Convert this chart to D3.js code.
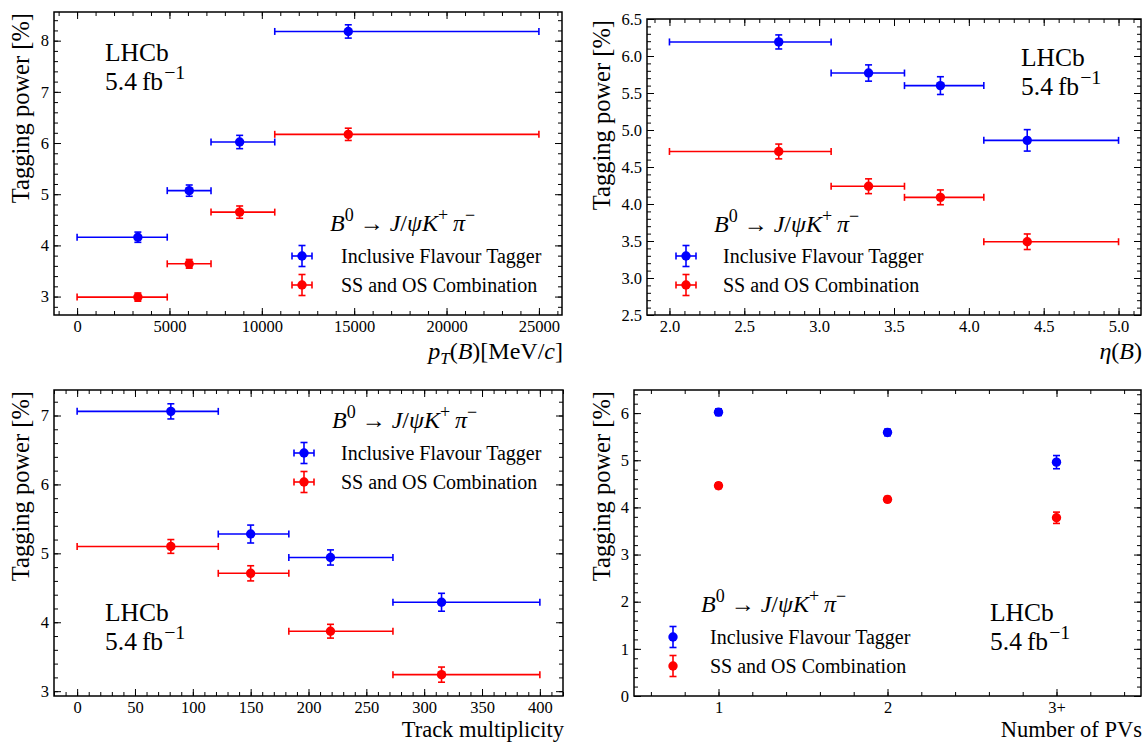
<!DOCTYPE html>
<html><head><meta charset="utf-8">
<script src="https://cdn.jsdelivr.net/npm/d3@7"></script>
<style>
body{margin:0;background:#fff}
svg{display:block}
text{font-family:"Liberation Serif","Times New Roman",serif;fill:#000}
</style>
</head><body>
<svg id="c" width="1144" height="742"></svg>
<script>
// ---------------- data ----------------
const seriesNames = ["Inclusive Flavour Tagger", "SS and OS Combination"];
const seriesColors = ["#0000ff", "#ff0000"];

const ptEdges = [0, 4880, 7250, 10700, 25000];
const ptX = [3290, 6070, 8800, 14680];
const ptIFT = [4.16, 5.07, 6.02, 8.18];
const ptIFTErr = [0.10, 0.11, 0.13, 0.13];
const ptSSOS = [2.99, 3.64, 4.65, 6.17];
const ptSSOSErr = [0.08, 0.085, 0.12, 0.12];
const ptXTicks = [0, 5000, 10000, 15000, 20000, 25000];
const ptYTicks = [3, 4, 5, 6, 7, 8];

const etaEdges = [2.0, 3.08, 3.57, 4.10, 5.0];
const etaX = [2.73, 3.33, 3.81, 4.39];
const etaIFT = [6.19, 5.77, 5.60, 4.86];
const etaIFTErr = [0.095, 0.11, 0.12, 0.145];
const etaSSOS = [4.71, 4.24, 4.09, 3.49];
const etaSSOSErr = [0.10, 0.10, 0.10, 0.105];
const etaXTicks = [2.0, 2.5, 3.0, 3.5, 4.0, 4.5, 5.0];
const etaYTicks = [2.5, 3.0, 3.5, 4.0, 4.5, 5.0, 5.5, 6.0, 6.5];

const trkEdges = [0, 122, 183, 273, 400];
const trkX = [81, 150, 219, 315];
const trkIFT = [7.06, 5.28, 4.94, 4.29];
const trkIFTErr = [0.11, 0.13, 0.11, 0.13];
const trkSSOS = [5.10, 4.71, 3.87, 3.24];
const trkSSOSErr = [0.10, 0.11, 0.10, 0.11];
const trkXTicks = [0, 50, 100, 150, 200, 250, 300, 350, 400];
const trkYTicks = [3, 4, 5, 6, 7];

const pvCategories = ["1", "2", "3+"];
const pvIFT = [6.02, 5.59, 4.96];
const pvIFTErr = [0.07, 0.07, 0.14];
const pvSSOS = [4.46, 4.17, 3.78];
const pvSSOSErr = [0.06, 0.06, 0.12];
const pvYTicks = [0, 1, 2, 3, 4, 5, 6];

// ---------------- drawing ----------------
const svg = d3.select("#c");

function rich(sel, parts, fs) {
  let shift = 0;
  parts.forEach(p => {
    const ts = sel.append("tspan").text(p.t);
    let target = 0, size = fs;
    if (p.sup) { target = -0.42 * fs; size = (p.scale || 0.7) * fs; }
    if (p.sub) { target = 0.22 * fs; size = 0.7 * fs; }
    ts.attr("dy", target - shift).attr("font-size", size);
    if (p.it) ts.attr("font-style", "italic");
    if (p.dx) ts.attr("dx", p.dx);
    shift = target;
  });
}

const decayParts = [
  {t: "B", it: true}, {t: "0", sup: true, scale: 0.75}, {t: " \u2192 "}, {t: "J", it: true}, {t: "/"},
  {t: "\u03c8K", it: true}, {t: "+", sup: true, scale: 0.75}, {t: "\u2009"}, {t: "\u03c0", it: true}, {t: "\u2212", sup: true, scale: 0.75}
];
const lumiParts = [{t: "5.4"}, {t: "fb", dx: 5}, {t: "\u22121", sup: true, scale: 0.78, dx: 1}];

function panel(cfg) {
  const b = cfg.box;
  const g = svg.append("g");
  const x = d3.scaleLinear().domain(cfg.xDomain).range([b.l, b.r]);
  const y = d3.scaleLinear().domain(cfg.yDomain).range([b.b, b.t]);

  const minor = (dom, step) => {
    const out = [];
    const s = Math.ceil(dom[0] / step - 1e-9), e = Math.floor(dom[1] / step + 1e-9);
    for (let i = s; i <= e; i++) out.push(+(i * step).toFixed(6));
    return out;
  };
  const xMinor = minor(cfg.xDomain, cfg.xMinorStep);
  const yMinor = minor(cfg.yDomain, cfg.yMinorStep);

  const style = (sel) => {
    sel.select(".domain").remove();
    sel.selectAll("line").attr("stroke", "#000").attr("stroke-width", 1);
    sel.selectAll("text").attr("font-size", 16.5).attr("fill", "#000");
    sel.attr("font-family", null).attr("font-size", null);
  };
  // minor
  g.append("g").attr("transform", `translate(0,${b.b})`).call(d3.axisBottom(x).tickValues(xMinor).tickFormat("").tickSize(-4)).call(style);
  g.append("g").attr("transform", `translate(0,${b.t})`).call(d3.axisTop(x).tickValues(xMinor).tickFormat("").tickSize(-4)).call(style);
  g.append("g").attr("transform", `translate(${b.l},0)`).call(d3.axisLeft(y).tickValues(yMinor).tickFormat("").tickSize(-4)).call(style);
  g.append("g").attr("transform", `translate(${b.r},0)`).call(d3.axisRight(y).tickValues(yMinor).tickFormat("").tickSize(-4)).call(style);
  // major
  g.append("g").attr("transform", `translate(0,${b.b})`).call(d3.axisBottom(x).tickValues(cfg.xTicks).tickFormat(cfg.xFmt).tickSize(-7).tickPadding(5)).call(style);
  g.append("g").attr("transform", `translate(0,${b.t})`).call(d3.axisTop(x).tickValues(cfg.xTicks).tickFormat("").tickSize(-7)).call(style);
  g.append("g").attr("transform", `translate(${b.l},0)`).call(d3.axisLeft(y).tickValues(cfg.yTicks).tickFormat(cfg.yFmt).tickSize(-7).tickPadding(5)).call(style);
  g.append("g").attr("transform", `translate(${b.r},0)`).call(d3.axisRight(y).tickValues(cfg.yTicks).tickFormat("").tickSize(-7)).call(style);

  // frame
  g.append("rect").attr("x", b.l).attr("y", b.t).attr("width", b.r - b.l).attr("height", b.b - b.t)
    .attr("fill", "none").attr("stroke", "#000").attr("stroke-width", 1.5);

  const cap = 3.5, sw = 1.6;
  cfg.series.forEach((s, si) => {
    const col = seriesColors[si];
    const sg = g.append("g").attr("stroke", col).attr("stroke-width", sw).attr("fill", col);
    s.vals.forEach((v, i) => {
      const cx = x(cfg.xs[i]), cy = y(v);
      if (cfg.edges) {
        const x0 = x(cfg.edges[i]), x1 = x(cfg.edges[i + 1]);
        sg.append("line").attr("x1", x0).attr("x2", x1).attr("y1", cy).attr("y2", cy);
        sg.append("line").attr("x1", x0).attr("x2", x0).attr("y1", cy - cap).attr("y2", cy + cap);
        sg.append("line").attr("x1", x1).attr("x2", x1).attr("y1", cy - cap).attr("y2", cy + cap);
      }
      const y0 = y(v - s.errs[i]), y1 = y(v + s.errs[i]);
      sg.append("line").attr("x1", cx).attr("x2", cx).attr("y1", y0).attr("y2", y1);
      sg.append("line").attr("x1", cx - cap).attr("x2", cx + cap).attr("y1", y0).attr("y2", y0);
      sg.append("line").attr("x1", cx - cap).attr("x2", cx + cap).attr("y1", y1).attr("y2", y1);
      sg.append("circle").attr("cx", cx).attr("cy", cy).attr("r", 4.7).attr("stroke", "none");
    });
  });

  // legend
  const L = cfg.legend;
  const dt = g.append("text").attr("x", L.decayX).attr("y", L.decayY).attr("font-size", 24);
  rich(dt, decayParts, 24);
  seriesNames.forEach((name, si) => {
    const col = seriesColors[si];
    const my = L.my[si], mx = L.mx;
    const lg = g.append("g").attr("stroke", col).attr("stroke-width", sw).attr("fill", col);
    if (cfg.edges) {
      lg.append("line").attr("x1", mx - 10).attr("x2", mx + 10).attr("y1", my).attr("y2", my);
      lg.append("line").attr("x1", mx - 10).attr("x2", mx - 10).attr("y1", my - cap).attr("y2", my + cap);
      lg.append("line").attr("x1", mx + 10).attr("x2", mx + 10).attr("y1", my - cap).attr("y2", my + cap);
    }
    lg.append("line").attr("x1", mx).attr("x2", mx).attr("y1", my - 10.5).attr("y2", my + 10.5);
    lg.append("line").attr("x1", mx - cap).attr("x2", mx + cap).attr("y1", my - 10.5).attr("y2", my - 10.5);
    lg.append("line").attr("x1", mx - cap).attr("x2", mx + cap).attr("y1", my + 10.5).attr("y2", my + 10.5);
    lg.append("circle").attr("cx", mx).attr("cy", my).attr("r", 4.7).attr("stroke", "none");
    g.append("text").attr("x", L.tx).attr("y", my + 7).attr("font-size", 20).text(name);
  });

  // LHCb label
  const T = cfg.lhcb;
  g.append("text").attr("x", T.x).attr("y", T.y1).attr("font-size", 25.5).text("LHCb");
  const lt = g.append("text").attr("x", T.x).attr("y", T.y1 + 29).attr("font-size", 25.5);
  rich(lt, lumiParts, 25.5);

  // axis labels
  g.append("text").attr("transform", `translate(${cfg.yLabelX},${b.t + 1}) rotate(-90)`)
    .attr("text-anchor", "end").attr("font-size", 24.5).text("Tagging power [%]");
  const xl = g.append("text").attr("x", b.r + 1).attr("y", cfg.xLabelY).attr("text-anchor", "end").attr("font-size", cfg.xLabelSize);
  rich(xl, cfg.xLabelParts, cfg.xLabelSize);
}

const fmtInt = d3.format("d");
const fmt1 = d3.format(".1f");

panel({
  box: {l: 54, r: 562, t: 12, b: 315},
  xDomain: [-1250, 26250], yDomain: [2.64, 8.56],
  xTicks: ptXTicks, yTicks: ptYTicks, xFmt: fmtInt, yFmt: fmtInt,
  xMinorStep: 1000, yMinorStep: 0.2,
  edges: ptEdges, xs: ptX,
  series: [{vals: ptIFT, errs: ptIFTErr}, {vals: ptSSOS, errs: ptSSOSErr}],
  legend: {decayX: 330, decayY: 231, mx: 302, my: [256, 285], tx: 341},
  lhcb: {x: 105, y1: 61},
  yLabelX: 29, xLabelY: 359, xLabelSize: 24,
  xLabelParts: [{t: "p", it: true}, {t: "T", it: true, sub: true}, {t: "("}, {t: "B", it: true}, {t: ")[MeV/"}, {t: "c", it: true}, {t: "]"}]
});

panel({
  box: {l: 647, r: 1141, t: 19, b: 315},
  xDomain: [1.85, 5.15], yDomain: [2.5, 6.5],
  xTicks: etaXTicks, yTicks: etaYTicks, xFmt: fmt1, yFmt: fmt1,
  xMinorStep: 0.1, yMinorStep: 0.1,
  edges: etaEdges, xs: etaX,
  series: [{vals: etaIFT, errs: etaIFTErr}, {vals: etaSSOS, errs: etaSSOSErr}],
  legend: {decayX: 714, decayY: 232, mx: 686, my: [256, 285], tx: 723},
  lhcb: {x: 1021, y1: 66},
  yLabelX: 610, xLabelY: 359, xLabelSize: 24,
  xLabelParts: [{t: "\u03b7", it: true}, {t: "("}, {t: "B", it: true}, {t: ")"}]
});

panel({
  box: {l: 54, r: 563, t: 390, b: 696},
  xDomain: [-20, 420], yDomain: [2.93, 7.37],
  xTicks: trkXTicks, yTicks: trkYTicks, xFmt: fmtInt, yFmt: fmtInt,
  xMinorStep: 10, yMinorStep: 0.2,
  edges: trkEdges, xs: trkX,
  series: [{vals: trkIFT, errs: trkIFTErr}, {vals: trkSSOS, errs: trkSSOSErr}],
  legend: {decayX: 332, decayY: 428, mx: 304, my: [453, 482], tx: 341},
  lhcb: {x: 105, y1: 621},
  yLabelX: 29, xLabelY: 736.5, xLabelSize: 22.5,
  xLabelParts: [{t: "Track multiplicity"}]
});

panel({
  box: {l: 634, r: 1141, t: 390, b: 696},
  xDomain: [0.5, 3.5], yDomain: [0, 6.49],
  xTicks: pvCategories.map((c, i) => i + 1), yTicks: pvYTicks,
  xFmt: (d) => pvCategories[d - 1], yFmt: fmtInt,
  xMinorStep: 0.2, yMinorStep: 0.2,
  edges: null, xs: pvCategories.map((c, i) => i + 1),
  series: [{vals: pvIFT, errs: pvIFTErr}, {vals: pvSSOS, errs: pvSSOSErr}],
  legend: {decayX: 701, decayY: 612, mx: 673, my: [637, 666], tx: 710},
  lhcb: {x: 990, y1: 621},
  yLabelX: 610, xLabelY: 736.5, xLabelSize: 22.5,
  xLabelParts: [{t: "Number of PVs"}]
});
</script>
</body></html>
